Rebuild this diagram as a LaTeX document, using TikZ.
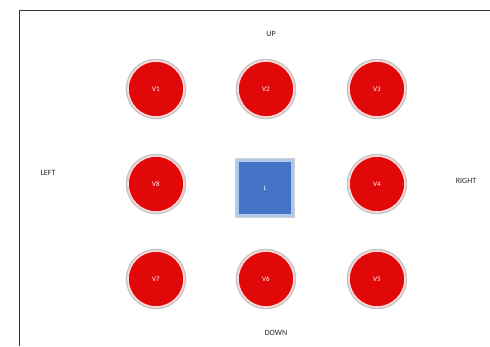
\documentclass[tikz,border=0pt]{standalone}
\usepackage{fontspec}
\setmainfont{Carlito}
\definecolor{vred}{HTML}{E00808}
\definecolor{lblue}{HTML}{4472C4}
\definecolor{lring}{HTML}{AFC8EE}
\tikzset{
  vnode/.style={circle, minimum size=56pt, inner sep=0pt, fill=vred, draw=white!85!red, line width=1.6pt,
    preaction={draw=gray!45, line width=4.5pt}, text=white, font=\fontsize{7}{8}\selectfont},
  lnode/.style={rectangle, minimum size=55pt, inner sep=0pt, fill=lblue, draw=lring, line width=2.6pt,
    preaction={draw=gray!35, line width=4.5pt}, text=white, font=\fontsize{7}{8}\selectfont},
  dirlabel/.style={font=\fontsize{8}{9}\selectfont, text=black!85}
}
\begin{document}
\begin{tikzpicture}[x=1pt,y=-1pt]
\useasboundingbox (0,0) rectangle (490,346);
\fill[white] (0,0) rectangle (490,346);
\coordinate (fb) at (19,346);
\coordinate (fc) at (19,10);
\coordinate (fr) at (490,10);
\draw[black!80, line width=0.9pt] (fb) -- (fc) -- (fr);
\node[vnode] (v1) at (156,89) {V1};
\node[vnode] (v2) at (266,89) {V2};
\node[vnode] (v3) at (377,89) {V3};
\node[vnode] (v8) at (156,184) {V8};
\node[lnode] (l) at (265,188) {L};
\node[vnode] (v4) at (377,184) {V4};
\node[vnode] (v7) at (156,279) {V7};
\node[vnode] (v6) at (266,279) {V6};
\node[vnode] (v5) at (377,279) {V5};
\node[dirlabel] (up) at (271,34) {UP};
\node[dirlabel] (left) at (48,173) {LEFT};
\node[dirlabel] (right) at (466,181) {RIGHT};
\node[dirlabel] (down) at (276,333) {DOWN};
\end{tikzpicture}
\end{document}
